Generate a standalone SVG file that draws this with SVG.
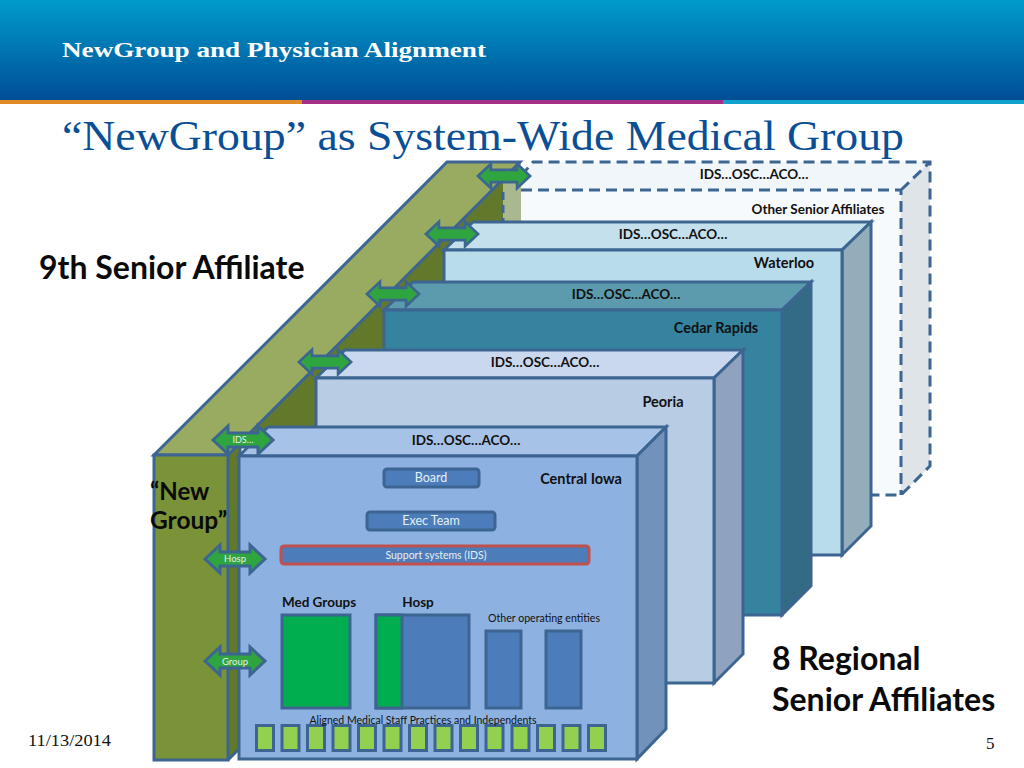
<svg xmlns="http://www.w3.org/2000/svg" width="1024" height="768" viewBox="0 0 1024 768">
<defs>
<linearGradient id="hdr" x1="0" y1="0" x2="0" y2="1"><stop offset="0" stop-color="#009bcb"/><stop offset="1" stop-color="#004e96"/></linearGradient>
<path id="arrow" d="M-30 0L-15 -14V-7H15V-14L30 0L15 14V7H-15V14Z"/>
</defs>
<style>
text{font-family:"Lato","Open Sans","Liberation Sans",sans-serif}
.ln{stroke:#3d6592;stroke-width:3;stroke-linejoin:miter}
.b{font-weight:700;fill:#111;font-size:13.500px;text-anchor:middle}
.n{font-size:14.500px}
.big{font-weight:700;fill:#0a0a0a;font-size:32px}
.w{fill:#e4f0f4;text-anchor:middle}
.ar{fill:#2ea53f;stroke:#3d6592;stroke-width:3}
.blue{fill:#4c7dba;stroke:#3d6592;stroke-width:3}
.grn{fill:#00ae50;stroke:#3d6592;stroke-width:3}
.sq{fill:#92d050;stroke:#3d6592;stroke-width:3}
.serif{font-family:"Liberation Serif",serif}
</style>
<rect width="1024" height="768" fill="#fff"/>
<g id="header">
<rect width="1024" height="100" fill="url(#hdr)"/>
<rect y="100" width="302" height="4" fill="#e08a28"/>
<rect x="302" y="100" width="421" height="4" fill="#a32f86"/>
<rect x="723" y="100" width="301" height="4" fill="#11a1cd"/>
<text class="serif" x="62" y="57" font-size="22" font-weight="700" fill="#fff" textLength="424" lengthAdjust="spacingAndGlyphs">NewGroup and Physician Alignment</text>
<text class="serif" x="62" y="150" font-size="43" fill="#0a4f96" textLength="842" lengthAdjust="spacingAndGlyphs">“NewGroup” as System-Wide Medical Group</text>
</g>
<g id="other-senior-affiliates">
<polygon points="504,190 533,162 930,162 901,190" fill="#f1f6fa"/>
<polygon points="901,190 930,162 930,466 901,495" fill="#dfe4e9"/>
<rect x="504" y="190" width="397" height="305" fill="#f6fafc"/>
<path d="M521 176L533 162H930V466L901 495H504M504 190H901V495M901 190L930 162" fill="none" stroke="#3d6592" stroke-width="3" stroke-dasharray="11 6"/>
<text class="b" x="754" y="179">IDS…OSC…ACO…</text>
<text class="b" x="818" y="214">Other Senior Affiliates</text>
</g>
<g id="new-group">
<rect x="503" y="162" width="18" height="60" fill="#a9b88f"/>
<polygon points="228,455 503,180 503,222 444,250 444,310 384,310 384,350 316,378 316,430 240,445 240,748 228,760" fill="#62782a"/>
<path d="M228 760L240 748V445" fill="none" stroke="#3d6592" stroke-width="3"/>
<path d="M503 192V222" fill="none" stroke="#3d6592" stroke-width="3" stroke-dasharray="8 5"/>
<polygon class="ln" points="154,455 447,162 520,162 228,455" fill="#98ab60"/>
<rect class="ln" x="154" y="455" width="74" height="305" fill="#7a9238"/>
<text class="big" x="150" y="500" style="font-size:24px">“New</text>
<text class="big" x="150" y="529" style="font-size:24.500px">Group”</text>
</g>
<g id="waterloo">
<polygon class="ln" points="444,250 473,222 871,222 842,250" fill="#c4e0ec"/>
<polygon class="ln" points="842,250 871,222 871,526 842,555" fill="#93aeba"/>
<rect class="ln" x="444" y="250" width="398" height="305" fill="#b9dcea"/>
<text class="b" x="673" y="239">IDS…OSC…ACO…</text>
<text class="b n" x="784" y="268">Waterloo</text>
</g>
<g id="cedar-rapids">
<polygon class="ln" points="384,310 413,282 811,282 782,310" fill="#5b9bad"/>
<polygon class="ln" points="782,310 811,282 811,586 782,615" fill="#336a84"/>
<rect class="ln" x="384" y="310" width="398" height="305" fill="#35839f"/>
<text class="b" x="626" y="299">IDS…OSC…ACO…</text>
<text class="b n" x="716" y="333">Cedar Rapids</text>
</g>
<g id="peoria">
<polygon class="ln" points="316,378 345,350 743,350 714,378" fill="#c9d8ee"/>
<polygon class="ln" points="714,378 743,350 743,654 714,683" fill="#8fa3c0"/>
<rect class="ln" x="316" y="378" width="398" height="305" fill="#b8cce4"/>
<text class="b" x="545" y="367">IDS…OSC…ACO…</text>
<text class="b n" x="663" y="407">Peoria</text>
</g>
<g id="central-iowa">
<polygon class="ln" points="239,456 268,427 666,427 637,456" fill="#a6c3e7"/>
<polygon class="ln" points="637,456 666,427 666,729 637,759" fill="#7092bb"/>
<rect class="ln" x="239" y="456" width="398" height="303" fill="#8db2e1"/>
<text class="b" x="466" y="445">IDS…OSC…ACO…</text>
<text class="b n" x="581" y="484">Central Iowa</text>
</g>
<g id="board"><rect class="blue" x="384" y="469" width="95" height="18" rx="3"/><text class="w" x="431" y="482" font-size="12.500">Board</text></g>
<g id="exec-team"><rect class="blue" x="367" y="512" width="128" height="18" rx="3"/><text class="w" x="431" y="525" font-size="12.500">Exec Team</text></g>
<g id="support"><rect x="281" y="546" width="308" height="18" rx="3" fill="#4c7dba" stroke="#c0504d" stroke-width="3"/><text class="w" x="436" y="559" font-size="10.500">Support systems (IDS)</text></g>
<g id="med-groups"><rect class="grn" x="282" y="615" width="68" height="93"/><text class="b" x="319" y="607">Med Groups</text></g>
<g id="hosp"><rect class="blue" x="376" y="615" width="93" height="93"/><rect class="grn" x="376" y="615" width="26" height="93"/><text class="b" x="418" y="607">Hosp</text></g>
<g id="other-entities"><rect class="blue" x="486" y="631" width="35" height="77"/><rect class="blue" x="546" y="631" width="35" height="77"/><text x="544" y="622" font-size="10.600" fill="#111" text-anchor="middle">Other operating entities</text></g>
<g id="practices">
<rect class="sq" x="256.500" y="725.500" width="17" height="25"/><rect class="sq" x="282" y="725.500" width="17" height="25"/><rect class="sq" x="307.500" y="725.500" width="17" height="25"/><rect class="sq" x="333" y="725.500" width="17" height="25"/><rect class="sq" x="358.500" y="725.500" width="17" height="25"/><rect class="sq" x="384" y="725.500" width="17" height="25"/><rect class="sq" x="409.500" y="725.500" width="17" height="25"/><rect class="sq" x="435" y="725.500" width="17" height="25"/><rect class="sq" x="460.500" y="725.500" width="17" height="25"/><rect class="sq" x="486" y="725.500" width="17" height="25"/><rect class="sq" x="512" y="725.500" width="17" height="25"/><rect class="sq" x="537.500" y="725.500" width="17" height="25"/><rect class="sq" x="563" y="725.500" width="17" height="25"/><rect class="sq" x="588.500" y="725.500" width="17" height="25"/>
<text x="423" y="724" font-size="10.500" fill="#111" text-anchor="middle">Aligned Medical Staff Practices and Independents</text>
</g>
<g id="connectors">
<use href="#arrow" class="ar" transform="translate(504,176) scale(.87)"/>
<use href="#arrow" class="ar" transform="translate(452,234) scale(.87)"/>
<use href="#arrow" class="ar" transform="translate(393,294) scale(.87)"/>
<use href="#arrow" class="ar" transform="translate(325,362) scale(.87)"/>
<use href="#arrow" class="ar" transform="translate(243,440)"/>
<use href="#arrow" class="ar" transform="translate(235,559)"/>
<use href="#arrow" class="ar" transform="translate(235,661)"/>
<text class="w" x="243" y="443" font-size="9">IDS…</text>
<text class="w" x="235" y="562" font-size="9.500">Hosp</text>
<text class="w" x="235" y="665" font-size="9.500">Group</text>
</g>
<g id="captions">
<text class="big" x="39" y="279">9th Senior Affiliate</text>
<text class="big" x="772" y="670">8 Regional</text>
<text class="big" x="772" y="711">Senior Affiliates</text>
<text class="serif" x="28" y="746" font-size="17" fill="#111" textLength="83" lengthAdjust="spacingAndGlyphs">11/13/2014</text>
<text class="serif" x="986" y="749" font-size="17" fill="#111">5</text>
</g>
</svg>
